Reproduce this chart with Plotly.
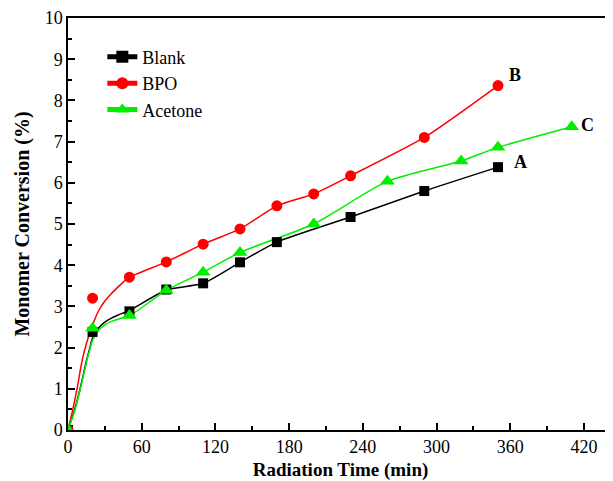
import plotly.graph_objects as go

# Measured points
blank_t = [0, 20, 50, 80, 110, 140, 170, 230, 290, 350]
blank_y = [0, 2.38, 2.88, 3.41, 3.56, 4.07, 4.56, 5.17, 5.80, 6.38]

bpo_t = [0, 20, 50, 80, 110, 140, 170, 200, 230, 290, 350]
bpo_y = [0, 3.20, 3.71, 4.08, 4.51, 4.88, 5.44, 5.73, 6.17, 7.10, 8.36]

acetone_t = [0, 20, 50, 80, 110, 140, 200, 260, 320, 350, 410]
acetone_y = [0, 2.47, 2.78, 3.39, 3.83, 4.31, 5.00, 6.04, 6.53, 6.86, 7.36]

# Smoothed fit curves
blank_fit_t = [0, 2, 5, 8, 10, 12, 15, 18, 20, 25, 30, 35, 40, 45, 50, 80, 110, 140, 170, 230, 290, 350]
blank_fit_y = [0, 0.18, 0.45, 0.78, 1.02, 1.28, 1.68, 2.02, 2.24, 2.48, 2.62, 2.71, 2.78, 2.84, 2.9,
               3.4, 3.56, 4.07, 4.56, 5.17, 5.80, 6.38]

bpo_fit_t = [0, 2, 5, 8, 10, 12, 15, 18, 20, 25, 30, 35, 40, 45, 50, 80, 110, 140, 170, 200, 230, 290, 350]
bpo_fit_y = [0, 0.25, 0.65, 1.1, 1.45, 1.75, 2.1, 2.38, 2.55, 2.9, 3.13, 3.3, 3.45, 3.59, 3.71,
             4.08, 4.51, 4.88, 5.44, 5.73, 6.17, 7.10, 8.36]

acetone_fit_t = [0, 2, 5, 8, 10, 12, 15, 18, 20, 25, 30, 35, 40, 45, 50, 80, 110, 140, 200, 260, 320, 350, 410]
acetone_fit_y = [0, 0.17, 0.42, 0.75, 1.0, 1.25, 1.64, 1.98, 2.18, 2.42, 2.55, 2.63, 2.68, 2.73, 2.77,
                 3.39, 3.83, 4.31, 5.00, 6.04, 6.53, 6.86, 7.36]

series = [
    ("Blank", blank_t, blank_y, blank_fit_t, blank_fit_y, "black", "square", 10),
    ("BPO", bpo_t, bpo_y, bpo_fit_t, bpo_fit_y, "#ff0000", "circle", 11),
    ("Acetone", acetone_t, acetone_y, acetone_fit_t, acetone_fit_y, "#00ee00", "triangle-up", 13),
]

labels = [("A", 368, 6.5), ("B", 364, 8.62), ("C", 423, 7.4)]

FONT = "'Liberation Serif', 'Times New Roman', serif"

fig = go.Figure()
for name, t, y, ft, fy, col, sym, sz in series:
    fig.add_trace(go.Scatter(x=ft, y=fy, mode="lines", line=dict(color=col, width=1.5, shape="spline", smoothing=0.6),
                             showlegend=False, hoverinfo="skip"))
for name, t, y, ft, fy, col, sym, sz in series:
    fig.add_trace(go.Scatter(x=t, y=y, mode="markers", marker=dict(color=col, symbol=sym, size=sz),
                             showlegend=False))
for name, t, y, ft, fy, col, sym, sz in series:
    fig.add_trace(go.Scatter(x=[None], y=[None], mode="lines+markers", name=name,
                             line=dict(color=col, width=1.5), marker=dict(color=col, symbol=sym, size=sz)))

for txt, xx, yy in labels:
    fig.add_annotation(x=xx, y=yy, text="<b>%s</b>" % txt, showarrow=False,
                       font=dict(family=FONT, size=18, color="black"), xanchor="center", yanchor="middle")

# page body has an 8px margin: figure is offset by (8, 8) in the window
fig.update_layout(
    width=605, height=473,
    margin=dict(l=60, r=0, t=10, b=51, autoexpand=False),
    paper_bgcolor="white", plot_bgcolor="white",
    font=dict(family=FONT, size=18, color="black"),
    legend=dict(x=0.063, y=0.95, xanchor="left", yanchor="top", bgcolor="rgba(0,0,0,0)",
                font=dict(family=FONT, size=18), tracegroupgap=0, itemsizing="constant"),
    showlegend=True,
)
fig.update_xaxes(range=[0, 443.6], tickmode="array", tickvals=[0, 60, 120, 180, 240, 300, 360, 420],
                 showline=True, linecolor="black", linewidth=1.5, mirror=True, automargin=False,
                 ticks="inside", ticklen=7, tickwidth=1.5, tickcolor="black",
                 minor=dict(tickvals=[30, 90, 150, 210, 270, 330, 390], ticks="inside", ticklen=4, tickwidth=1.5, tickcolor="black"),
                 showgrid=False, zeroline=False,
                 title=dict(text="<b>Radiation Time (min)</b>", font=dict(family=FONT, size=19), standoff=7),
                 tickfont=dict(family=FONT, size=18))
fig.update_yaxes(range=[0, 10], tickmode="array", tickvals=list(range(0, 11)),
                 showline=True, linecolor="black", linewidth=1.5, mirror=False, automargin=False,
                 ticks="inside", ticklen=7, tickwidth=1.5, tickcolor="black",
                 minor=dict(tickvals=[i + 0.5 for i in range(10)], ticks="inside", ticklen=4, tickwidth=1.5, tickcolor="black"),
                 showgrid=False, zeroline=False,
                 title=dict(text="<b>Monomer Conversion (%)</b>", font=dict(family=FONT, size=20), standoff=10),
                 tickfont=dict(family=FONT, size=18))

fig.write_html("out.html")
